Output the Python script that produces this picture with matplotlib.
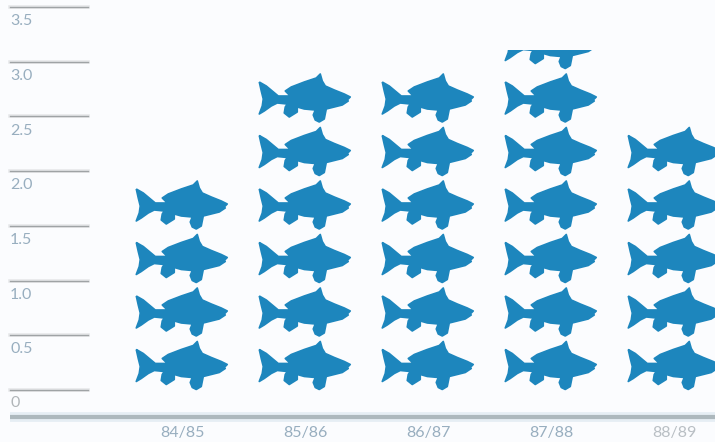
import matplotlib
matplotlib.use("Agg")
import matplotlib.pyplot as plt
from matplotlib.path import Path
from matplotlib.patches import PathPatch, Rectangle
from matplotlib.transforms import Affine2D

seasons = ["84/85", "85/86", "86/87", "87/88", "88/89"]
values = [2.0, 3.0, 3.0, 3.11, 2.5]
y_ticks = [0.5, 1.0, 1.5, 2.0, 2.5, 3.0, 3.5]
y_labels = ["0.5", "1.0", "1.5", "2.0", "2.5", "3.0", "3.5"]

FISH = "#1d86bd"
GRID = "#9fa3a5"
TEXT = "#98aebf"
FONT = "Lato"

# outline traced off one fish, in px around its centre
outline = [(-45, -17), (-38, -13), (-32, -8), (-26, -3), (-14, -3), (-19, -8), (-13, -12),
           (0, -17), (12, -21), (16, -25), (18, -18), (21, -13), (30, -9), (40, -5),
           (46, -2), (43, 1), (44, 2), (38, 6), (30, 8), (22, 10), (21, 15), (20, 20),
           (15, 23), (11, 21), (9, 16), (11, 11), (0, 10), (-7, 8), (-7, 13), (-15, 18),
           (-20, 14), (-19, 8), (-17, 5), (-27, 4), (-33, 7), (-40, 12), (-45, 15),
           (-42, 7), (-41, 0), (-43, -8), (-45, -17)]
fish_path = Path(outline)

fig = plt.figure(figsize=(7.15, 4.42), dpi=100, facecolor="#fbfcfe")
ax = fig.add_axes([0, 0, 1, 1])
ax.set_xlim(-182 / 123, (715 - 182) / 123)
ax.set_ylim(-52 / 109.4, 390 / 109.4)
ax.axis("off")

px_x = 1 / 123
px_y = 1 / 109.4

# gridlines with the value under each
gt = ax.get_yaxis_transform()
for t, lab in zip(y_ticks, y_labels):
    ax.plot([0.014, 0.123], [t, t], transform=gt, color="#e6e8ea", lw=2.6)
    ax.plot([0.014, 0.123], [t, t], transform=gt, color=GRID, lw=1.0)
    ax.text(0.014, t - 0.065, lab, transform=gt, color=TEXT, fontsize=11.5,
            family=FONT, ha="left", va="top")
ax.plot([0.014, 0.123], [0, 0], transform=gt, color="#e6e8ea", lw=2.6)
ax.plot([0.014, 0.123], [0, 0], transform=gt, color=GRID, lw=1.0)
ax.text(0.014, -0.055, "0", transform=gt, color="#b0b5b8", fontsize=11.5,
        family=FONT, ha="left", va="top")

# baseline
ax.plot([0.014, 1], [-0.247, -0.247], transform=gt, color="#e6eef4", lw=7, solid_capstyle="butt")
ax.plot([0.014, 1], [-0.247, -0.247], transform=gt, color="#adb8bd", lw=3, solid_capstyle="butt")

# one fish per half unit, last one cut at the value
for i, (season, v) in enumerate(zip(seasons, values)):
    clip = Rectangle((i - 0.5, -0.1), 1, v + 0.1, transform=ax.transData)
    row = 0
    while row * 0.5 < v:
        cy = 0.215 + row * 0.489
        tr = Affine2D().scale(px_x, -px_y).translate(i - 0.006, cy) + ax.transData
        patch = PathPatch(fish_path, facecolor=FISH, edgecolor=FISH, lw=1.2, joinstyle="round", transform=tr)
        ax.add_patch(patch)
        patch.set_clip_path(clip)
        row += 1
    ax.text(i, -0.395, season, color=TEXT if i < 4 else "#b9bfc4", fontsize=11.5,
            family=FONT, ha="center", va="center")

fig.savefig("out.png", dpi=100, facecolor=fig.get_facecolor())
